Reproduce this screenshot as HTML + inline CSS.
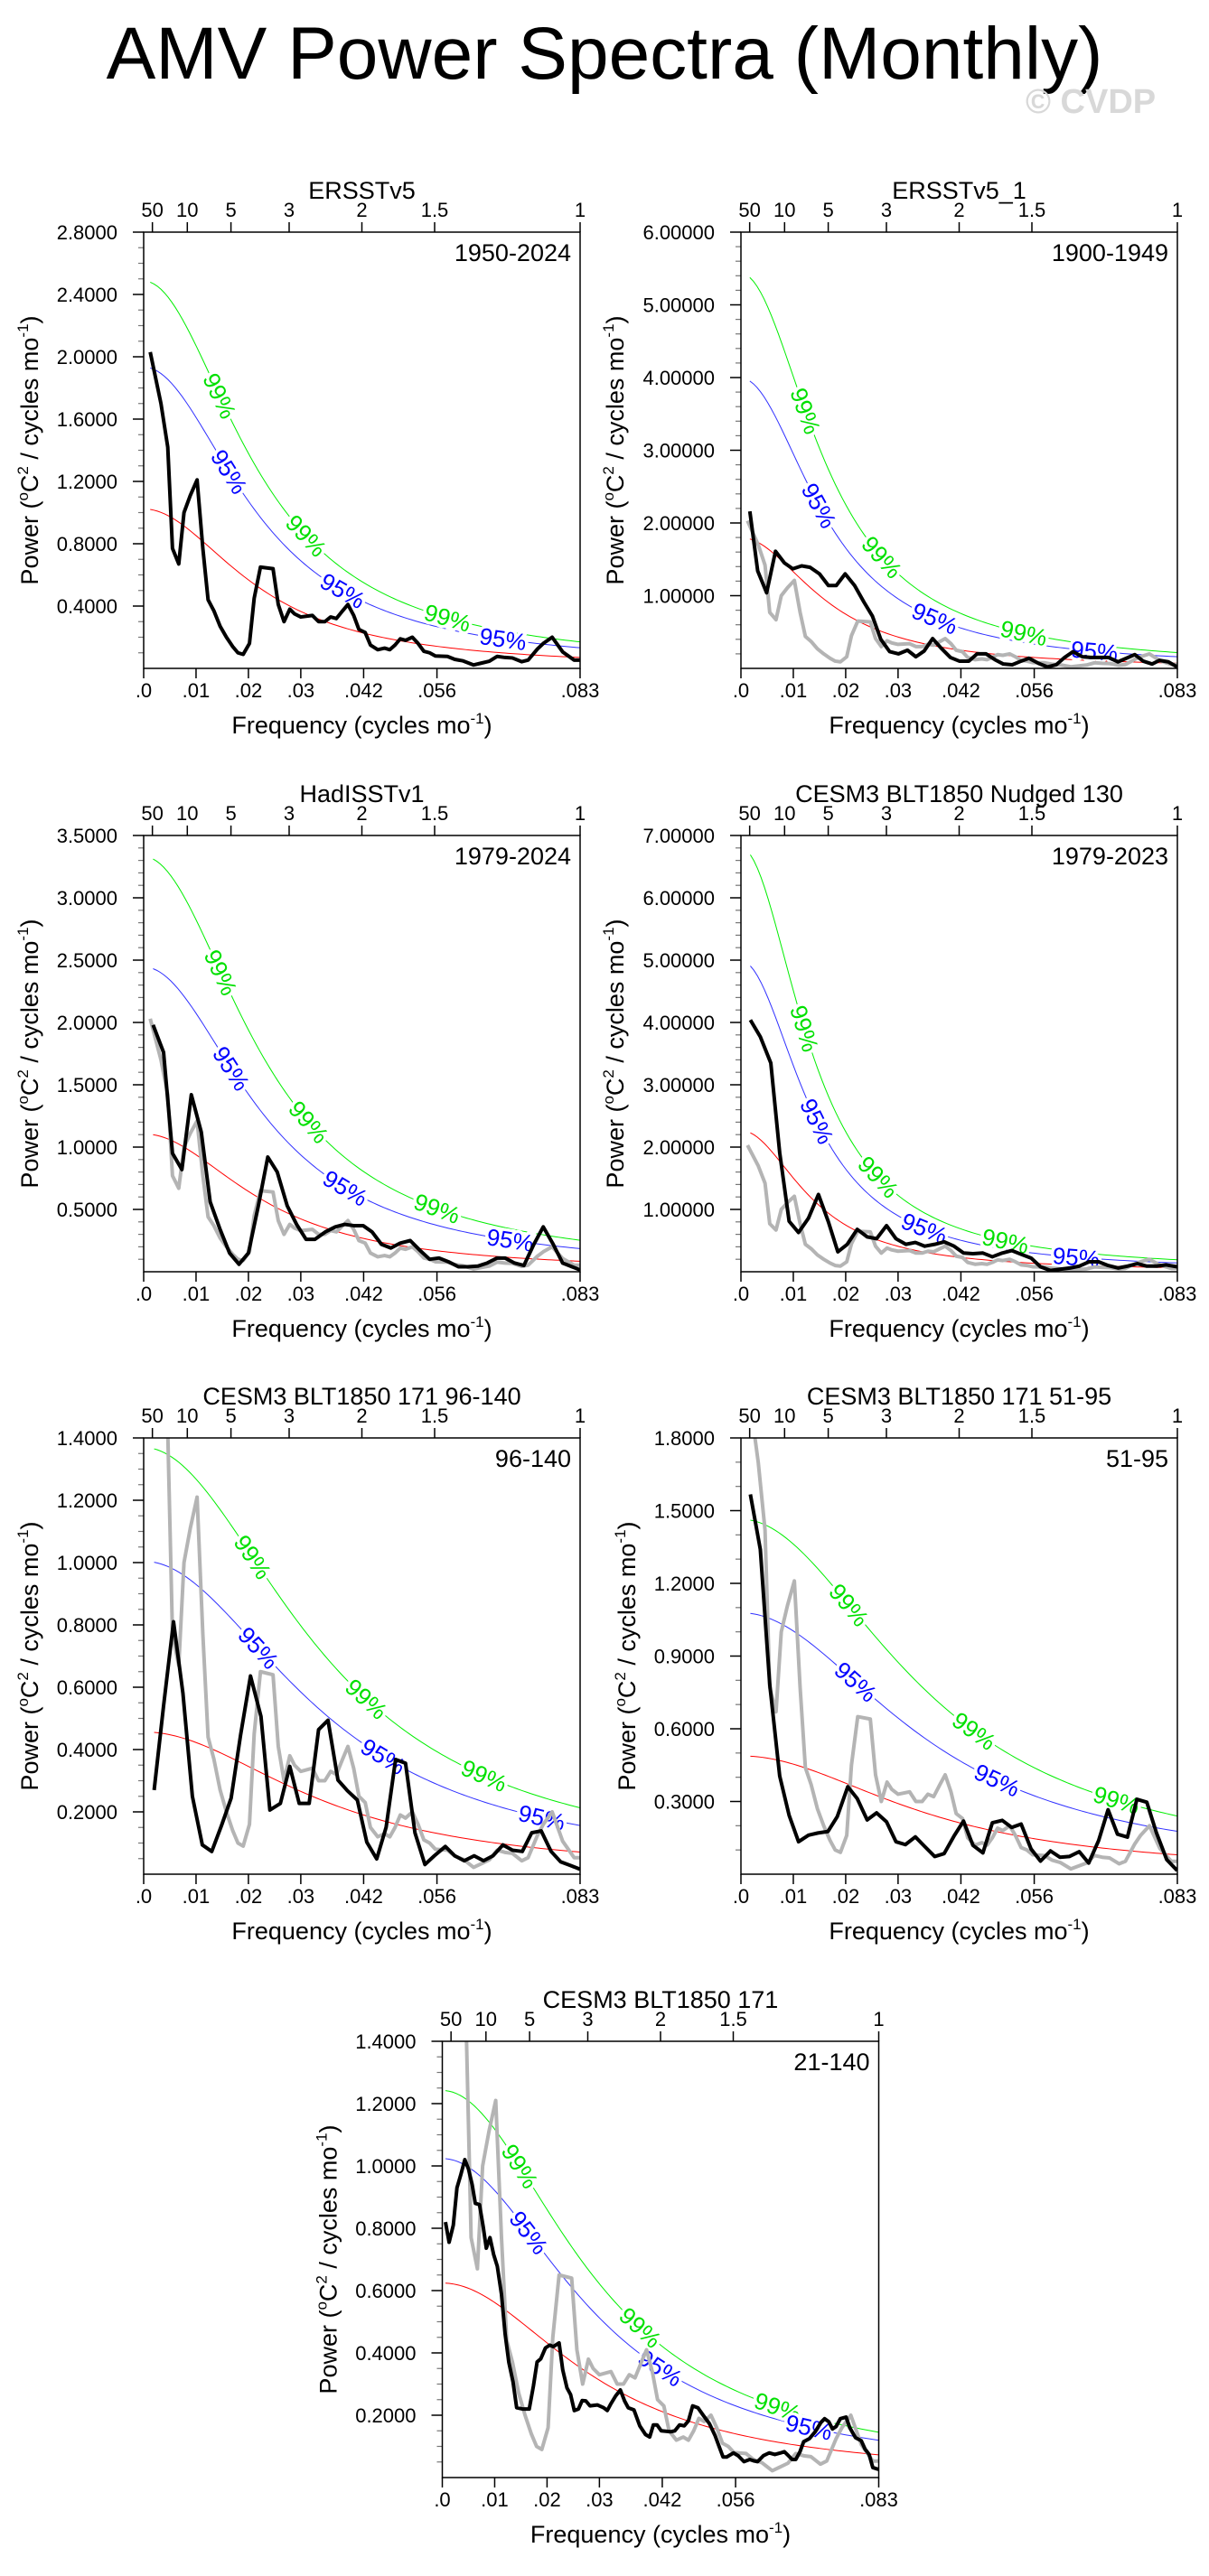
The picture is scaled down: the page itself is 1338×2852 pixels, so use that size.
<!DOCTYPE html>
<html><head><meta charset="utf-8"><title>AMV Power Spectra (Monthly)</title>
<style>
html,body{margin:0;padding:0;background:#fff;}
#page{position:relative;width:1338px;height:2852px;overflow:hidden;font-family:"Liberation Sans",Arial,sans-serif;}
#title{position:absolute;left:0;width:1338px;top:10px;text-align:center;font-size:82px;line-height:100px;color:#000;}
#cvdp{position:absolute;left:1135px;top:92px;font-size:38px;font-weight:bold;color:#d8d8d8;}
svg{position:absolute;left:0;top:0;}
</style></head>
<body>
<div id="page">
<div id="title">AMV Power Spectra (Monthly)</div>
<div id="cvdp">© CVDP</div>
<svg id="chart" width="1338" height="2852" xmlns="http://www.w3.org/2000/svg"></svg>
</div>
<script>
// ---------- data ----------
const obsFreq=[.00125,.0033,.0046,.0055,.0067,.0077,.0089,.0102,.0113,.0123,.0134,.0146,.0158,.017,.018,.019,.0202,.0211,.0223,.0247,.0257,.0268,.0279,.0288,.03,.0322,.0334,.0346,.0357,.0368,.038,.039,.0401,.0411,.0423,.0433,.0447,.046,.047,.048,.049,.05,.0513,.0524,.0535,.0546,.0557,.058,.0594,.061,.063,.0645,.066,.0675,.069,.0704,.0722,.0734,.0752,.0763,.078,.08,.0822,.0833];
const obsPower=[2.03,1.70,1.42,.77,.67,1.00,1.11,1.21,.77,.44,.37,.27,.20,.14,.10,.09,.16,.45,.65,.64,.41,.30,.38,.35,.33,.34,.30,.30,.33,.32,.37,.41,.34,.25,.23,.15,.12,.13,.12,.15,.19,.18,.20,.16,.11,.10,.08,.077,.058,.048,.022,.034,.046,.077,.07,.067,.043,.053,.125,.16,.20,.106,.053,.053];

const p2Freq=[.0017,.0032,.0049,.0066,.0083,.0099,.0116,.0132,.015,.0167,.0182,.0199,.0217,.0235,.0251,.0267,.0284,.0301,.0318,.0334,.035,.0366,.0382,.04,.0417,.0435,.0451,.0468,.0485,.0501,.0518,.0535,.055,.0568,.0585,.0602,.0618,.0634,.0652,.0668,.0684,.0702,.072,.0736,.0752,.0768,.0785,.0799,.0816,.0833];
const p2Power=[2.16,1.34,1.04,1.61,1.45,1.37,1.41,1.39,1.30,1.14,1.14,1.30,1.14,.91,.72,.40,.23,.20,.25,.16,.24,.41,.28,.15,.10,.10,.20,.20,.12,.06,.05,.10,.14,.07,.02,.05,.15,.23,.16,.15,.15,.15,.09,.14,.19,.10,.06,.11,.09,.02];

const p3Freq=[.0018,.0038,.0055,.0073,.0091,.011,.0127,.0145,.0164,.0182,.02,.0219,.0237,.0255,.0274,.0292,.031,.0327,.0347,.0366,.0384,.0401,.0419,.0436,.0454,.0472,.049,.0509,.0528,.0546,.0564,.0582,.0601,.0619,.0638,.0656,.0675,.069,.0708,.0726,.0745,.0763,.0782,.08,.0818,.0833];
const p3Power=[1.98,1.76,.95,.82,1.42,1.12,.56,.35,.15,.06,.15,.53,.92,.80,.53,.38,.26,.26,.32,.36,.38,.37,.37,.32,.22,.19,.23,.25,.17,.10,.11,.08,.04,.04,.045,.07,.11,.11,.07,.05,.22,.36,.22,.07,.04,.015];

const p4Freq=[.0018,.0037,.0057,.0074,.0092,.011,.0129,.0148,.0167,.0185,.0203,.0222,.0241,.0259,.0278,.0296,.0315,.0333,.0351,.037,.0388,.0407,.0425,.0443,.0462,.048,.0499,.0517,.0535,.0554,.0572,.0591,.0609,.0628,.0646,.0665,.0683,.0701,.072,.0738,.0757,.0775,.0794,.0812,.0833];
const p4Power=[4.04,3.77,3.35,1.91,.81,.63,.86,1.24,.80,.32,.44,.68,.56,.53,.74,.53,.44,.47,.41,.44,.48,.41,.30,.29,.30,.24,.30,.34,.28,.22,.08,.02,.04,.06,.09,.16,.16,.10,.06,.09,.13,.09,.09,.11,.08];

const p5Freq=[.002,.0038,.0057,.0075,.0093,.0112,.013,.0149,.0167,.0185,.0204,.0224,.0241,.0261,.0279,.0297,.0316,.0334,.0352,.0371,.0389,.0408,.0426,.0445,.0463,.0481,.05,.0518,.0537,.0555,.0576,.0594,.0612,.0631,.0649,.0667,.0686,.0704,.0723,.0741,.0759,.0778,.0796,.0815,.0833];
const p5Power=[.27,.54,.81,.58,.25,.094,.073,.158,.244,.446,.636,.506,.206,.227,.346,.227,.227,.464,.494,.302,.268,.238,.103,.049,.151,.368,.356,.133,.031,.059,.089,.059,.043,.059,.043,.059,.094,.077,.073,.133,.139,.073,.040,.028,.016];

const p6Freq=[.0018,.0037,.0055,.0074,.0092,.011,.0129,.0147,.0166,.0184,.0204,.0222,.0241,.0259,.0278,.0296,.0314,.0333,.0351,.037,.0388,.0407,.0425,.0443,.0462,.048,.0499,.0517,.0535,.0554,.0572,.0591,.0609,.0627,.0646,.0664,.0683,.0701,.0719,.0738,.0756,.0775,.0793,.0813,.0833];
const p6Power=[1.567,1.34,.783,.405,.243,.134,.161,.170,.176,.238,.361,.312,.224,.253,.216,.134,.122,.154,.114,.073,.085,.158,.219,.119,.088,.212,.222,.193,.207,.104,.054,.096,.070,.073,.093,.046,.139,.266,.165,.153,.309,.297,.173,.060,.015];

const p7Freq=[.0006,.0013,.0021,.0028,.0035,.0043,.005,.0057,.0063,.0071,.0078,.0084,.0091,.0098,.0105,.0113,.012,.0127,.0135,.0142,.0153,.0166,.0174,.0181,.0188,.0197,.0205,.0212,.0223,.023,.0238,.0245,.0252,.026,.0267,.0274,.0282,.0296,.0308,.0315,.0322,.0331,.034,.0348,.0355,.0366,.0377,.0388,.0396,.0403,.041,.0418,.0436,.0444,.0453,.0462,.047,.0478,.0488,.0499,.051,.0521,.0528,.0536,.0543,.0556,.0565,.0576,.0587,.0594,.0602,.0613,.0624,.0635,.0646,.0653,.0661,.0668,.0675,.0683,.069,.0701,.0712,.0723,.073,.0738,.0745,.0752,.076,.0771,.0778,.0789,.08,.0807,.0815,.0822,.0833];
const p7Power=[.82,.755,.81,.93,.97,1.02,.99,.94,.88,.876,.806,.736,.77,.716,.678,.588,.46,.37,.307,.224,.22,.22,.294,.371,.381,.416,.425,.42,.432,.345,.288,.266,.215,.22,.247,.246,.23,.233,.224,.215,.237,.262,.281,.246,.224,.217,.166,.138,.13,.169,.169,.15,.147,.15,.169,.166,.182,.23,.224,.198,.173,.134,.102,.066,.066,.079,.07,.051,.058,.054,.051,.07,.079,.074,.079,.083,.07,.058,.058,.083,.115,.125,.147,.177,.189,.179,.156,.164,.189,.194,.16,.128,.118,.092,.074,.032,.026];

const panelTitles=["ERSSTv5","ERSSTv5_1","HadISSTv1","CESM3 BLT1850 Nudged 130","CESM3 BLT1850 171 96-140","CESM3 BLT1850 171 51-95","CESM3 BLT1850 171"];
const periodLabels=["1950-2024","1900-1949","1979-2024","1979-2023","96-140","51-95","21-140"];
const yMaxes=[2.8,6,3.5,7,1.4,1.8,1.4];
const yMajorSteps=[0.4,1,0.5,1,0.2,0.3,0.2];
const yMinorSteps=[0.1,0.2,0.1,0.2,0.05,0.1,0.05];
const yDecimals=[4,5,4,5,4,4,4];
const redNoiseStart=[1.02,1.78,1.10,2.23,0.455,0.487,0.624];
const redNoiseEnd=[0.07,0.072,0.084,0.064,0.071,0.080,0.073];
const ci95Ratio=[1.89,2.22,2.21,2.2,2.2,2.21,1.64];
const ci99Ratio=[2.43,3.02,3.01,3.0,3.0,3.0,1.99];
const label99Freqs=[[.0145,.031,.058],[.0123,.0269,.054],[.0147,.0315,.056],[.0121,.0262,.0505],[.0208,.0425,.065],[.0206,.0445,.0717],[.0148,.0378,.064]];
const label95Freqs=[[.0163,.038,.0686],[.0149,.037,.0675],[.0167,.0385,.07],[.0145,.035,.064],[.0219,.0457,.076],[.0219,.0489],[.0165,.0416,.070]];
const bottomTickFreqs=[0,.01,.02,.03,.042,.056,.08333];
const bottomTickLabels=[".0",".01",".02",".03",".042",".056",".083"];
const topTickPeriods=[50,10,5,3,2,1.5,1];
const topTickLabels=["50","10","5","3","2","1.5","1"];

// ---------- layout (not data) ----------
const layout=[[159,257],[820,257],[159,925],[820,925],[159,1592],[820,1592],[489.5,2260]];
const PW=483, PH=483, FMAX=1/12;
const seriesF=[obsFreq,p2Freq,p3Freq,p4Freq,p5Freq,p6Freq,p7Freq];
const seriesP=[obsPower,p2Power,p3Power,p4Power,p5Power,p6Power,p7Power];

const NS="http://www.w3.org/2000/svg";
const svg=document.getElementById('chart');
function mk(tag,attrs,parent){const e=document.createElementNS(NS,tag);for(const k in attrs)e.setAttribute(k,attrs[k]);parent.appendChild(e);return e;}

function solveR(fs,fe,ratio){
  const g=r=>(1-2*r*Math.cos(2*Math.PI*fe)+r*r)/(1-2*r*Math.cos(2*Math.PI*fs)+r*r);
  let lo=0,hi=0.999;
  for(let i=0;i<60;i++){const m=(lo+hi)/2; if(g(m)<ratio)lo=m; else hi=m;}
  return (lo+hi)/2;
}

for(let p=0;p<7;p++){
  const L=layout[p][0], T=layout[p][1];
  const xs=f=>L+f/FMAX*PW;
  const ys=v=>T+PH-v/yMaxes[p]*PH;
  const g=mk('g',{},svg);
  
  

  const cp=mk('clipPath',{id:'clip'+p},g);
  mk('rect',{x:L,y:T,width:PW,height:PH},cp);

  const tt=mk('text',{x:L+PW/2,y:T-37,'text-anchor':'middle','font-size':27,fill:'#000'},g);
  tt.textContent=panelTitles[p];
  
  
  const yl=mk('text',{x:L+PW-10,y:T+32,'text-anchor':'end','font-size':27,fill:'#000'},g);
  yl.textContent=periodLabels[p];
  
  

  const yTickG=mk('g',{},g);
  
  
  const nMin=Math.round(yMaxes[p]/yMinorSteps[p]);
  const ratioMM=Math.round(yMajorSteps[p]/yMinorSteps[p]);
  for(let i=1;i<=nMin;i++){
    const v=i*yMinorSteps[p], y=ys(v);
    if(i%ratioMM===0){
      mk('line',{x1:L-12,x2:L,y1:y,y2:y,stroke:'#000','stroke-width':1.5},yTickG);
      const t=mk('text',{x:L-29,y:y+8,'text-anchor':'end','font-size':22,fill:'#000'},yTickG);
      t.textContent=v.toFixed(yDecimals[p]);
      
      
    } else {
      mk('line',{x1:L-6,x2:L,y1:y,y2:y,stroke:'#777','stroke-width':1.2},yTickG);
    }
  }
  const xTickG=mk('g',{},g);
  
  
  for(let i=0;i<bottomTickFreqs.length;i++){
    const x=xs(bottomTickFreqs[i]);
    mk('line',{x1:x,x2:x,y1:T+PH,y2:T+PH+11,stroke:'#000','stroke-width':1.5},xTickG);
    const t=mk('text',{x:x,y:T+PH+32,'text-anchor':'middle','font-size':22,fill:'#000'},xTickG);
    t.textContent=bottomTickLabels[i];
    
    
  }
  const topG=mk('g',{},g);
  
  
  for(let i=0;i<topTickPeriods.length;i++){
    const x=xs(1/(12*topTickPeriods[i]));
    mk('line',{x1:x,x2:x,y1:T,y2:T-11,stroke:'#000','stroke-width':1.5},topG);
    const t=mk('text',{x:x,y:T-17,'text-anchor':'middle','font-size':22,fill:'#000'},topG);
    t.textContent=topTickLabels[i];
    
    
  }
  const xt=mk('text',{x:L+PW/2,y:T+PH+72,'text-anchor':'middle','font-size':27,fill:'#000'},g);
  xt.innerHTML='Frequency (cycles mo<tspan font-size="17" dy="-11">-1</tspan><tspan dy="11">)</tspan>';
  
  
  const yOff=yDecimals[p]===5?140:127;
  const yt=mk('text',{x:0,y:0,'text-anchor':'middle','font-size':27,fill:'#000',transform:'translate('+(L-yOff+10)+','+(T+PH/2)+') rotate(-90)'},g);
  yt.innerHTML='Power (<tspan font-size="17" dy="-11">o</tspan><tspan dy="11">C</tspan><tspan font-size="17" dy="-11">2</tspan><tspan dy="11"> / cycles mo</tspan><tspan font-size="17" dy="-11">-1</tspan><tspan dy="11">)</tspan>';
  
  

  const fArr=seriesF[p], vArr=seriesP[p];
  const fs=fArr[0], fe=FMAX;
  const r=solveR(fs,fe,redNoiseStart[p]/redNoiseEnd[p]);
  const red=f=>redNoiseStart[p]*(1-2*r*Math.cos(2*Math.PI*fs)+r*r)/(1-2*r*Math.cos(2*Math.PI*f)+r*r);
  const curveDefs=[[1,'#ff0000','red-noise-curve'],[ci95Ratio[p],'#3030ff','ci95-curve'],[ci99Ratio[p],'#00ee00','ci99-curve']];
  for(const cd of curveDefs){
    let d='';
    for(let i=0;i<=120;i++){const f=fs+(fe-fs)*i/120; d+=(i?'L':'M')+xs(f).toFixed(2)+','+ys(red(f)*cd[0]).toFixed(2);}
    const pth=mk('path',{d:d,fill:'none',stroke:cd[1],'stroke-width':1,'clip-path':'url(#clip'+p+')'},g);
    
    
  }
  const labelDefs=[[label99Freqs[p],ci99Ratio[p],'#00e000','99%','ci99-label'],[label95Freqs[p],ci95Ratio[p],'#0000ff','95%','ci95-label']];
  for(const ld of labelDefs){
    for(const f of ld[0]){
      const x=xs(f), y=ys(red(f)*ld[1]);
      const dx=xs(f+0.0005)-xs(f-0.0005), dy=ys(red(f+0.0005)*ld[1])-ys(red(f-0.0005)*ld[1]);
      const ang=Math.atan2(dy,dx)*180/Math.PI;
      const t=mk('text',{x:0,y:0,'text-anchor':'middle','dominant-baseline':'central','font-size':26,fill:ld[2],stroke:'#fff','stroke-width':7,'paint-order':'stroke',transform:'translate('+x.toFixed(1)+','+y.toFixed(1)+') rotate('+ang.toFixed(1)+')'},g);
      t.textContent=ld[3];
      
      
    }
  }

  if(p>0){
    let d='';
    for(let i=0;i<Math.min(obsFreq.length,obsPower.length);i++) d+=(i?'L':'M')+xs(obsFreq[i]).toFixed(2)+','+ys(obsPower[i]).toFixed(2);
    const gp=mk('path',{d:d,fill:'none',stroke:'#b4b4b4','stroke-width':4,'stroke-linejoin':'round','clip-path':'url(#clip'+p+')'},g);
    
    
  }
  let d='';
  for(let i=0;i<Math.min(fArr.length,vArr.length);i++) d+=(i?'L':'M')+xs(fArr[i]).toFixed(2)+','+ys(vArr[i]).toFixed(2);
  const bp=mk('path',{d:d,fill:'none',stroke:'#000','stroke-width':4,'stroke-linejoin':'round','clip-path':'url(#clip'+p+')'},g);
  
  

  const fr=mk('rect',{x:L,y:T,width:PW,height:PH,fill:'none',stroke:'#000','stroke-width':1.5},g);
  
  
}
</script>
</body></html>
